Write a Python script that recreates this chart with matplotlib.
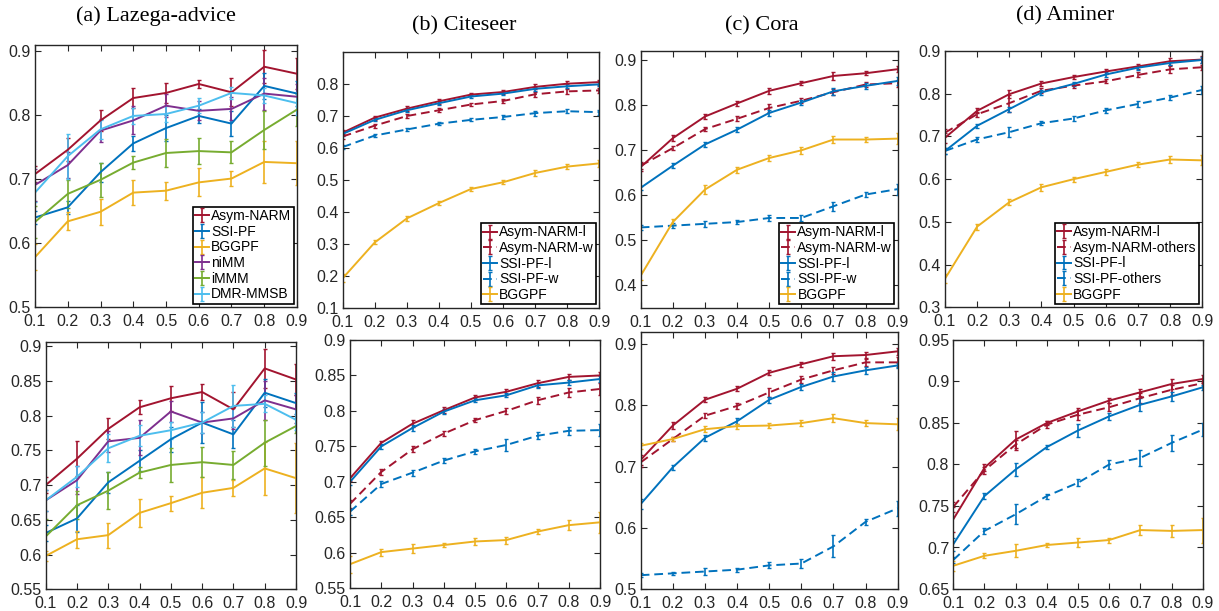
import matplotlib
matplotlib.use("Agg")
import matplotlib.pyplot as plt
from matplotlib.ticker import FuncFormatter

# ---------------- data ----------------
x = [0.1, 0.2, 0.3, 0.4, 0.5, 0.6, 0.7, 0.8, 0.9]

# (a) Lazega-advice, top row
la_t_asym = [0.708, 0.746, 0.792, 0.827, 0.835, 0.849, 0.836, 0.876, 0.865]
la_t_asym_e = [0.012, 0.018, 0.017, 0.016, 0.015, 0.006, 0.022, 0.026, 0.024]
la_t_ssi = [0.640, 0.656, 0.711, 0.756, 0.780, 0.799, 0.787, 0.846, 0.834]
la_t_ssi_e = [0.010, 0.010, 0.015, 0.012, 0.020, 0.011, 0.020, 0.020, 0.020]
la_t_bgg = [0.578, 0.634, 0.649, 0.679, 0.682, 0.695, 0.701, 0.727, 0.725]
la_t_bgg_e = [0.020, 0.014, 0.020, 0.020, 0.014, 0.022, 0.012, 0.033, 0.034]
la_t_nimm = [0.691, 0.722, 0.776, 0.792, 0.815, 0.807, 0.810, 0.834, 0.829]
la_t_nimm_e = [0.025, 0.020, 0.018, 0.022, 0.018, 0.015, 0.018, 0.025, 0.020]
la_t_immm = [0.633, 0.677, 0.699, 0.726, 0.741, 0.744, 0.742, 0.777, 0.809]
la_t_immm_e = [0.025, 0.022, 0.027, 0.010, 0.022, 0.020, 0.017, 0.030, 0.025]
la_t_dmr = [0.679, 0.736, 0.778, 0.799, 0.802, 0.815, 0.835, 0.831, 0.819]
la_t_dmr_e = [0.015, 0.035, 0.015, 0.012, 0.012, 0.012, 0.010, 0.012, 0.018]

# (a) Lazega-advice, bottom row
la_b_asym = [0.700, 0.738, 0.781, 0.812, 0.825, 0.834, 0.809, 0.868, 0.852]
la_b_asym_e = [0.012, 0.025, 0.015, 0.010, 0.018, 0.012, 0.025, 0.028, 0.023]
la_b_ssi = [0.631, 0.652, 0.704, 0.735, 0.766, 0.790, 0.773, 0.833, 0.818]
la_b_ssi_e = [0.012, 0.020, 0.015, 0.015, 0.018, 0.030, 0.020, 0.020, 0.015]
la_b_bgg = [0.598, 0.622, 0.628, 0.660, 0.674, 0.689, 0.696, 0.724, 0.710]
la_b_bgg_e = [0.007, 0.012, 0.018, 0.020, 0.011, 0.022, 0.011, 0.038, 0.050]
la_b_nimm = [0.678, 0.707, 0.763, 0.768, 0.806, 0.790, 0.796, 0.822, 0.809]
la_b_nimm_e = [0.015, 0.020, 0.015, 0.025, 0.015, 0.015, 0.015, 0.028, 0.020]
la_b_immm = [0.626, 0.671, 0.692, 0.718, 0.729, 0.733, 0.729, 0.761, 0.785]
la_b_immm_e = [0.025, 0.020, 0.027, 0.008, 0.025, 0.022, 0.020, 0.033, 0.010]
la_b_dmr = [0.678, 0.712, 0.753, 0.771, 0.779, 0.790, 0.814, 0.817, 0.794]
la_b_dmr_e = [0.015, 0.015, 0.020, 0.015, 0.012, 0.015, 0.030, 0.012, 0.015]

# (b) Citeseer, top row
ci_t_asym_l = [0.647, 0.694, 0.722, 0.745, 0.766, 0.774, 0.790, 0.800, 0.805]
ci_t_asym_w = [0.635, 0.669, 0.699, 0.717, 0.735, 0.746, 0.767, 0.776, 0.779]
ci_t_ssi_l = [0.643, 0.687, 0.717, 0.739, 0.760, 0.769, 0.784, 0.792, 0.798]
ci_t_ssi_w = [0.602, 0.638, 0.657, 0.675, 0.687, 0.696, 0.708, 0.714, 0.711]
ci_t_bgg = [0.192, 0.304, 0.379, 0.427, 0.471, 0.492, 0.521, 0.541, 0.551]
ci_t_asym_l_e = [0.008, 0.006, 0.007, 0.007, 0.006, 0.006, 0.008, 0.008, 0.008]
ci_t_asym_w_e = [0.008, 0.006, 0.006, 0.006, 0.006, 0.006, 0.008, 0.008, 0.008]
ci_t_ssi_l_e = [0.006, 0.005, 0.006, 0.006, 0.005, 0.005, 0.006, 0.006, 0.006]
ci_t_ssi_w_e = [0.006, 0.006, 0.006, 0.005, 0.005, 0.006, 0.008, 0.006, 0.008]
ci_t_bgg_e = [0.012, 0.006, 0.007, 0.007, 0.006, 0.006, 0.008, 0.008, 0.010]

# (c) Cora, top row
co_t_asym_l = [0.662, 0.726, 0.774, 0.803, 0.831, 0.848, 0.864, 0.870, 0.879]
co_t_asym_w = [0.665, 0.704, 0.746, 0.769, 0.793, 0.809, 0.828, 0.845, 0.848]
co_t_ssi_l = [0.616, 0.665, 0.712, 0.745, 0.782, 0.805, 0.830, 0.842, 0.853]
co_t_ssi_w = [0.528, 0.532, 0.536, 0.540, 0.549, 0.549, 0.575, 0.601, 0.613]
co_t_bgg = [0.421, 0.540, 0.612, 0.656, 0.682, 0.699, 0.723, 0.723, 0.725]
co_t_asym_l_e = [0.008, 0.006, 0.006, 0.005, 0.006, 0.005, 0.008, 0.005, 0.006]
co_t_asym_w_e = [0.008, 0.005, 0.005, 0.006, 0.008, 0.006, 0.006, 0.006, 0.008]
co_t_ssi_l_e = [0.005, 0.005, 0.006, 0.006, 0.006, 0.006, 0.008, 0.006, 0.008]
co_t_ssi_w_e = [0.005, 0.005, 0.006, 0.004, 0.006, 0.006, 0.010, 0.005, 0.012]
co_t_bgg_e = [0.010, 0.007, 0.010, 0.007, 0.007, 0.008, 0.008, 0.006, 0.012]

# (d) Aminer, top row
am_t_asym_l = [0.697, 0.760, 0.799, 0.824, 0.839, 0.852, 0.864, 0.876, 0.880]
am_t_asym_o = [0.709, 0.752, 0.778, 0.807, 0.819, 0.829, 0.844, 0.857, 0.862]
am_t_ssi_l = [0.666, 0.725, 0.764, 0.803, 0.823, 0.845, 0.861, 0.872, 0.879]
am_t_ssi_o = [0.666, 0.693, 0.710, 0.731, 0.742, 0.761, 0.776, 0.791, 0.809]
am_t_bgg = [0.367, 0.489, 0.546, 0.581, 0.600, 0.617, 0.634, 0.646, 0.644]
am_t_asym_l_e = [0.012, 0.006, 0.010, 0.005, 0.005, 0.005, 0.006, 0.008, 0.008]
am_t_asym_o_e = [0.008, 0.006, 0.020, 0.006, 0.006, 0.005, 0.006, 0.008, 0.006]
am_t_ssi_l_e = [0.008, 0.005, 0.006, 0.005, 0.005, 0.005, 0.005, 0.005, 0.006]
am_t_ssi_o_e = [0.006, 0.006, 0.012, 0.005, 0.005, 0.005, 0.008, 0.006, 0.010]
am_t_bgg_e = [0.010, 0.007, 0.007, 0.008, 0.006, 0.007, 0.006, 0.008, 0.012]

# (b) Citeseer, bottom row
ci_b_asym_l = [0.705, 0.755, 0.782, 0.801, 0.819, 0.827, 0.839, 0.848, 0.850]
ci_b_asym_w = [0.669, 0.714, 0.746, 0.768, 0.787, 0.800, 0.815, 0.826, 0.831]
ci_b_ssi_l = [0.700, 0.750, 0.776, 0.799, 0.815, 0.822, 0.836, 0.840, 0.845]
ci_b_ssi_w = [0.658, 0.697, 0.713, 0.730, 0.743, 0.752, 0.765, 0.772, 0.773]
ci_b_bgg = [0.584, 0.601, 0.606, 0.611, 0.616, 0.618, 0.630, 0.639, 0.643]
ci_b_asym_l_e = [0.004, 0.003, 0.005, 0.004, 0.003, 0.004, 0.005, 0.004, 0.005]
ci_b_asym_w_e = [0.006, 0.004, 0.004, 0.004, 0.003, 0.004, 0.005, 0.007, 0.008]
ci_b_ssi_l_e = [0.004, 0.003, 0.004, 0.004, 0.003, 0.003, 0.004, 0.004, 0.004]
ci_b_ssi_w_e = [0.004, 0.004, 0.004, 0.003, 0.004, 0.008, 0.005, 0.006, 0.008]
ci_b_bgg_e = [0.012, 0.005, 0.006, 0.003, 0.005, 0.005, 0.004, 0.007, 0.015]

# (c) Cora, bottom row
co_b_asym_l = [0.711, 0.767, 0.809, 0.827, 0.853, 0.867, 0.880, 0.882, 0.888]
co_b_asym_w = [0.707, 0.745, 0.783, 0.799, 0.821, 0.842, 0.857, 0.870, 0.870]
co_b_ssi_l = [0.639, 0.699, 0.747, 0.774, 0.809, 0.830, 0.847, 0.857, 0.865]
co_b_ssi_w = [0.523, 0.526, 0.529, 0.532, 0.539, 0.542, 0.570, 0.610, 0.632]
co_b_bgg = [0.734, 0.745, 0.761, 0.766, 0.767, 0.771, 0.779, 0.771, 0.769]
co_b_asym_l_e = [0.008, 0.006, 0.004, 0.004, 0.004, 0.004, 0.006, 0.005, 0.006]
co_b_asym_w_e = [0.008, 0.004, 0.004, 0.005, 0.008, 0.005, 0.006, 0.006, 0.008]
co_b_ssi_l_e = [0.008, 0.004, 0.005, 0.005, 0.005, 0.005, 0.008, 0.006, 0.004]
co_b_ssi_w_e = [0.003, 0.003, 0.005, 0.003, 0.005, 0.008, 0.018, 0.005, 0.012]
co_b_bgg_e = [0.005, 0.004, 0.005, 0.004, 0.004, 0.005, 0.006, 0.005, 0.010]

# (d) Aminer, bottom row
am_b_asym_l = [0.734, 0.796, 0.830, 0.850, 0.864, 0.877, 0.887, 0.897, 0.903]
am_b_asym_o = [0.749, 0.793, 0.824, 0.848, 0.860, 0.869, 0.880, 0.890, 0.898]
am_b_ssi_l = [0.704, 0.762, 0.794, 0.821, 0.841, 0.858, 0.872, 0.882, 0.893]
am_b_ssi_o = [0.685, 0.720, 0.740, 0.762, 0.778, 0.800, 0.808, 0.826, 0.842]
am_b_bgg = [0.678, 0.690, 0.696, 0.703, 0.706, 0.709, 0.721, 0.720, 0.721]
am_b_asym_l_e = [0.015, 0.004, 0.010, 0.003, 0.004, 0.003, 0.004, 0.006, 0.005]
am_b_asym_o_e = [0.006, 0.004, 0.006, 0.004, 0.006, 0.005, 0.006, 0.006, 0.005]
am_b_ssi_l_e = [0.008, 0.004, 0.008, 0.002, 0.008, 0.004, 0.008, 0.005, 0.003]
am_b_ssi_o_e = [0.004, 0.004, 0.012, 0.003, 0.004, 0.005, 0.010, 0.010, 0.008]
am_b_bgg_e = [0.006, 0.003, 0.008, 0.003, 0.005, 0.003, 0.006, 0.007, 0.015]

titles = ["(a) Lazega-advice", "(b) Citeseer", "(c) Cora", "(d) Aminer"]
xtick_labels = ["0.1", "0.2", "0.3", "0.4", "0.5", "0.6", "0.7", "0.8", "0.9"]

# ---------------- style ----------------
RED = "#A2142F"
BLUE = "#0072BD"
YEL = "#EDB120"
PUR = "#7E2F8E"
GRN = "#77AC30"
LBL = "#4DBEEE"
AXC = "#262626"
DASH = (0, (4.5, 2.5))

W, H = 1219, 611
fig = plt.figure(figsize=(W / 100, H / 100), dpi=100)
plt.rcParams["font.family"] = ["Liberation Sans", "DejaVu Sans"]


def rect(l, r, t, b):
    return [l / W, 1 - b / H, (r - l) / W, (b - t) / H]


fmt = FuncFormatter(lambda v, p: f"{v:g}")


def make_ax(r, ylim, yticks):
    ax = fig.add_axes(rect(*r))
    ax.set_xlim(0.1, 0.9)
    ax.set_ylim(*ylim)
    ax.set_xticks(x)
    ax.set_xticklabels(xtick_labels)
    ax.set_yticks(yticks)
    ax.yaxis.set_major_formatter(fmt)
    ax.tick_params(direction="in", top=True, right=True, length=4, width=0.8,
                   labelsize=11.5, colors=AXC)
    ax.tick_params(axis="x", pad=5)
    ax.tick_params(axis="y", pad=3)
    for s in ax.spines.values():
        s.set_color(AXC)
        s.set_linewidth(1.0)
    return ax


def eb(ax, y, e, color, label=None, ls="-"):
    ax.errorbar(x, y, yerr=e, color=color, lw=1.4, elinewidth=1.2,
                capsize=1.5, capthick=1.0, ls=ls, label=label)


def legend(ax):
    lg = ax.legend(loc="lower right", fontsize=10, frameon=True, fancybox=False,
                   edgecolor="black", framealpha=1, borderpad=0.15,
                   labelspacing=0.12, handlelength=1.0, handletextpad=0.15,
                   borderaxespad=0.25)
    lg.get_frame().set_linewidth(1.2)


# (a) top
ax = make_ax((35, 297, 45, 307), (0.5, 0.91), [0.5, 0.6, 0.7, 0.8, 0.9])
eb(ax, la_t_asym, la_t_asym_e, RED, "Asym-NARM")
eb(ax, la_t_ssi, la_t_ssi_e, BLUE, "SSI-PF")
eb(ax, la_t_bgg, la_t_bgg_e, YEL, "BGGPF")
eb(ax, la_t_nimm, la_t_nimm_e, PUR, "niMM")
eb(ax, la_t_immm, la_t_immm_e, GRN, "iMMM")
eb(ax, la_t_dmr, la_t_dmr_e, LBL, "DMR-MMSB")
legend(ax)

# (b) top
ax = make_ax((342.7, 599.3, 51.7, 307.7), (0.1, 0.9),
             [0.1, 0.2, 0.3, 0.4, 0.5, 0.6, 0.7, 0.8])
eb(ax, ci_t_asym_l, ci_t_asym_l_e, RED, "Asym-NARM-l")
eb(ax, ci_t_asym_w, ci_t_asym_w_e, RED, "Asym-NARM-w", DASH)
eb(ax, ci_t_ssi_l, ci_t_ssi_l_e, BLUE, "SSI-PF-l")
eb(ax, ci_t_ssi_w, ci_t_ssi_w_e, BLUE, "SSI-PF-w", DASH)
eb(ax, ci_t_bgg, ci_t_bgg_e, YEL, "BGGPF")
legend(ax)

# (c) top
ax = make_ax((640.7, 897.7, 50.7, 307.7), (0.35, 0.92),
             [0.4, 0.5, 0.6, 0.7, 0.8, 0.9])
eb(ax, co_t_asym_l, co_t_asym_l_e, RED, "Asym-NARM-l")
eb(ax, co_t_asym_w, co_t_asym_w_e, RED, "Asym-NARM-w", DASH)
eb(ax, co_t_ssi_l, co_t_ssi_l_e, BLUE, "SSI-PF-l")
eb(ax, co_t_ssi_w, co_t_ssi_w_e, BLUE, "SSI-PF-w", DASH)
eb(ax, co_t_bgg, co_t_bgg_e, YEL, "BGGPF")
legend(ax)

# (d) top
ax = make_ax((945, 1202.3, 51, 307.3), (0.3, 0.9),
             [0.3, 0.4, 0.5, 0.6, 0.7, 0.8, 0.9])
eb(ax, am_t_asym_l, am_t_asym_l_e, RED, "Asym-NARM-l")
eb(ax, am_t_asym_o, am_t_asym_o_e, RED, "Asym-NARM-others", DASH)
eb(ax, am_t_ssi_l, am_t_ssi_l_e, BLUE, "SSI-PF-l")
eb(ax, am_t_ssi_o, am_t_ssi_o_e, BLUE, "SSI-PF-others", DASH)
eb(ax, am_t_bgg, am_t_bgg_e, YEL, "BGGPF")
legend(ax)

# (a) bottom
ax = make_ax((45.7, 296, 342, 589.3), (0.55, 0.906),
             [0.55, 0.6, 0.65, 0.7, 0.75, 0.8, 0.85, 0.9])
eb(ax, la_b_asym, la_b_asym_e, RED)
eb(ax, la_b_ssi, la_b_ssi_e, BLUE)
eb(ax, la_b_bgg, la_b_bgg_e, YEL)
eb(ax, la_b_nimm, la_b_nimm_e, PUR)
eb(ax, la_b_immm, la_b_immm_e, GRN)
eb(ax, la_b_dmr, la_b_dmr_e, LBL)

# (b) bottom
ax = make_ax((350, 600, 340, 588.3), (0.55, 0.9),
             [0.55, 0.6, 0.65, 0.7, 0.75, 0.8, 0.85, 0.9])
eb(ax, ci_b_asym_l, ci_b_asym_l_e, RED)
eb(ax, ci_b_asym_w, ci_b_asym_w_e, RED, ls=DASH)
eb(ax, ci_b_ssi_l, ci_b_ssi_l_e, BLUE)
eb(ax, ci_b_ssi_w, ci_b_ssi_w_e, BLUE, ls=DASH)
eb(ax, ci_b_bgg, ci_b_bgg_e, YEL)

# (c) bottom
ax = make_ax((640.7, 897.7, 331.7, 589.3), (0.5, 0.92),
             [0.5, 0.6, 0.7, 0.8, 0.9])
eb(ax, co_b_asym_l, co_b_asym_l_e, RED)
eb(ax, co_b_asym_w, co_b_asym_w_e, RED, ls=DASH)
eb(ax, co_b_ssi_l, co_b_ssi_l_e, BLUE)
eb(ax, co_b_ssi_w, co_b_ssi_w_e, BLUE, ls=DASH)
eb(ax, co_b_bgg, co_b_bgg_e, YEL)

# (d) bottom
ax = make_ax((953.3, 1202.7, 340, 589), (0.65, 0.95),
             [0.65, 0.7, 0.75, 0.8, 0.85, 0.9, 0.95])
eb(ax, am_b_asym_l, am_b_asym_l_e, RED)
eb(ax, am_b_asym_o, am_b_asym_o_e, RED, ls=DASH)
eb(ax, am_b_ssi_l, am_b_ssi_l_e, BLUE)
eb(ax, am_b_ssi_o, am_b_ssi_o_e, BLUE, ls=DASH)
eb(ax, am_b_bgg, am_b_bgg_e, YEL)

# titles
for t, (px, py) in zip(titles, [(156, 16), (464, 26), (762, 26), (1065, 16)]):
    fig.text(px / W, 1 - py / H, t, ha="center", va="center",
             fontsize=16, family="Liberation Serif", color="black")

fig.savefig("out.png", dpi=100)
